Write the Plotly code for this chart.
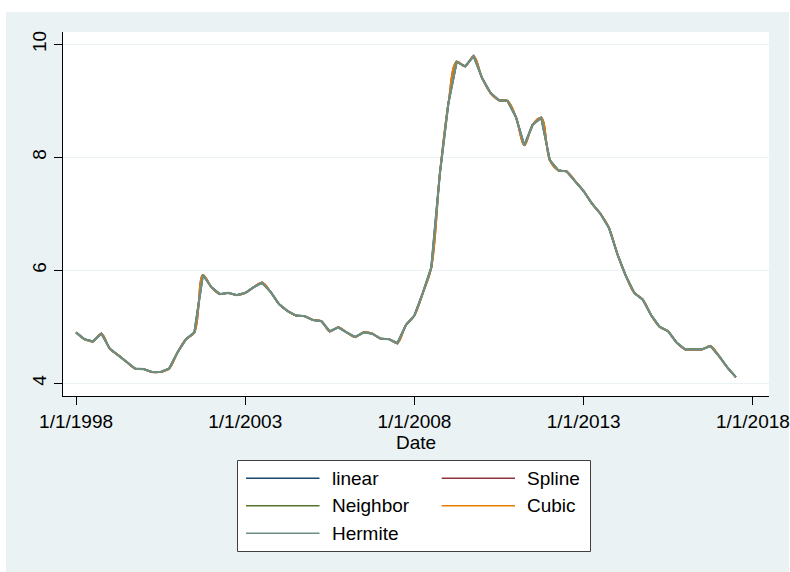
import plotly.graph_objects as go

# ---- data (quarterly) ----
dates = [f"{y}-{m:02d}-01" for y in range(1998, 2018) for m in (1, 4, 7, 10)][:79]
rate = [
    4.90, 4.78, 4.74, 4.88,   # 1998
    4.61, 4.50, 4.38, 4.26,   # 1999
    4.25, 4.20, 4.20, 4.26,   # 2000
    4.55, 4.78, 4.90, 5.92,   # 2001
    5.70, 5.58, 5.60, 5.56,   # 2002
    5.60, 5.70, 5.78, 5.62,   # 2003
    5.40, 5.28, 5.20, 5.19,   # 2004
    5.12, 5.10, 4.92, 4.99,   # 2005
    4.90, 4.82, 4.90, 4.88,   # 2006
    4.79, 4.78, 4.71, 5.03,   # 2007
    5.20, 5.60, 6.05, 7.70,   # 2008
    8.95, 9.69, 9.61, 9.79,   # 2009
    9.40, 9.14, 9.01, 9.00,   # 2010
    8.71, 8.21, 8.58, 8.70,   # 2011
    7.95, 7.77, 7.75, 7.58,   # 2012
    7.40, 7.18, 7.00, 6.75,   # 2013
    6.28, 5.90, 5.60, 5.48,   # 2014
    5.20, 5.00, 4.92, 4.72,   # 2015
    4.60, 4.60, 4.60, 4.66,   # 2016
    4.48, 4.28, 4.11,         # 2017
]
series_names = ["linear", "Spline", "Neighbor", "Cubic", "Hermite"]
series_colors = ["#1a476f", "#90353b", "#55752f", "#e37e00", "#6e8e84"]
series_shapes = ["linear", "spline", "linear", "spline", "linear"]
x_tickvals = ["1998-01-01", "2003-01-01", "2008-01-01", "2013-01-01", "2018-01-01"]
x_ticktext = ["1/1/1998", "1/1/2003", "1/1/2008", "1/1/2013", "1/1/2018"]
y_tickvals = [4, 6, 8, 10]

FONT = "Arial, Liberation Sans, sans-serif"
BG = "#eaf2f3"

fig = go.Figure()
for name, col, shp in zip(series_names, series_colors, series_shapes):
    fig.add_trace(go.Scatter(
        x=dates, y=rate, mode="lines", name=name,
        line=dict(color=col, width=2.2 if name == "Hermite" else 1.8, shape=shp),
        showlegend=False,
    ))

# plot geometry in pixels
W, H = 790, 572
L, R, T, B = 63, 769, 32, 396
pw, ph = R - L, B - T

def px(xp):
    return (xp - L) / pw

def py(yp):
    return (B - yp) / ph

shapes = [
    dict(type="rect", xref="paper", yref="paper", layer="below",
         x0=px(6), x1=px(789), y0=py(572), y1=py(12),
         fillcolor=BG, line=dict(width=0)),
    dict(type="rect", xref="paper", yref="paper", layer="below",
         x0=0, x1=1, y0=0, y1=1,
         fillcolor="white", line=dict(width=0)),
    # legend box
    dict(type="rect", xref="paper", yref="paper",
         x0=px(237.5), x1=px(590.5), y0=py(551.5), y1=py(460.5),
         fillcolor="white", line=dict(color="#404040", width=1)),
]
annotations = []
rows = [478.3, 505.7, 533.3]
cols = [(246, 319.5, 329.5), (441.7, 515, 524.5)]
order = [("linear", 0, 0), ("Spline", 0, 1), ("Neighbor", 1, 0), ("Cubic", 1, 1), ("Hermite", 2, 0)]
cmap = dict(zip(series_names, series_colors))
for name, r, c in order:
    x0, x1, xt = cols[c]
    yy = py(rows[r])
    shapes.append(dict(type="line", xref="paper", yref="paper",
                       x0=px(x0), x1=px(x1), y0=yy, y1=yy,
                       line=dict(color=cmap[name], width=1.6)))
    annotations.append(dict(xref="paper", yref="paper", x=px(xt), y=yy,
                            xanchor="left", yanchor="middle", showarrow=False,
                            text=name, font=dict(family=FONT, size=19, color="black")))

fig.update_layout(
    width=W, height=H, autosize=False,
    margin=dict(l=L, r=W - R, t=T, b=H - B, pad=0, autoexpand=False),
    paper_bgcolor="white", plot_bgcolor="rgba(0,0,0,0)",
    font=dict(family=FONT, size=19, color="black"),
    shapes=shapes, annotations=annotations,
    showlegend=False,
    xaxis=dict(
        type="date", range=["1997-08-13", "2018-06-24"],
        tickmode="array", tickvals=x_tickvals, ticktext=x_ticktext,
        ticks="outside", ticklen=8, tickwidth=1, tickcolor="black",
        showline=True, linecolor="black", linewidth=1,
        showgrid=False, zeroline=False, automargin=False,
        title=dict(text="Date", font=dict(size=19), standoff=2),
        tickfont=dict(size=19),
    ),
    yaxis=dict(
        range=[3.775, 10.218],
        tickmode="array", tickvals=y_tickvals,
        ticks="outside", ticklen=8, tickwidth=1, tickcolor="black",
        tickangle=-90, automargin=False,
        showline=True, linecolor="black", linewidth=1,
        showgrid=True, gridcolor=BG, gridwidth=1.2,
        zeroline=False,
        tickfont=dict(size=19),
    ),
)

fig.write_html(
    "out.html",
    config={"displayModeBar": False, "responsive": False},
    post_script="document.body.style.margin='0';document.body.style.overflow='hidden';"
                "document.documentElement.style.overflow='hidden';",
)
